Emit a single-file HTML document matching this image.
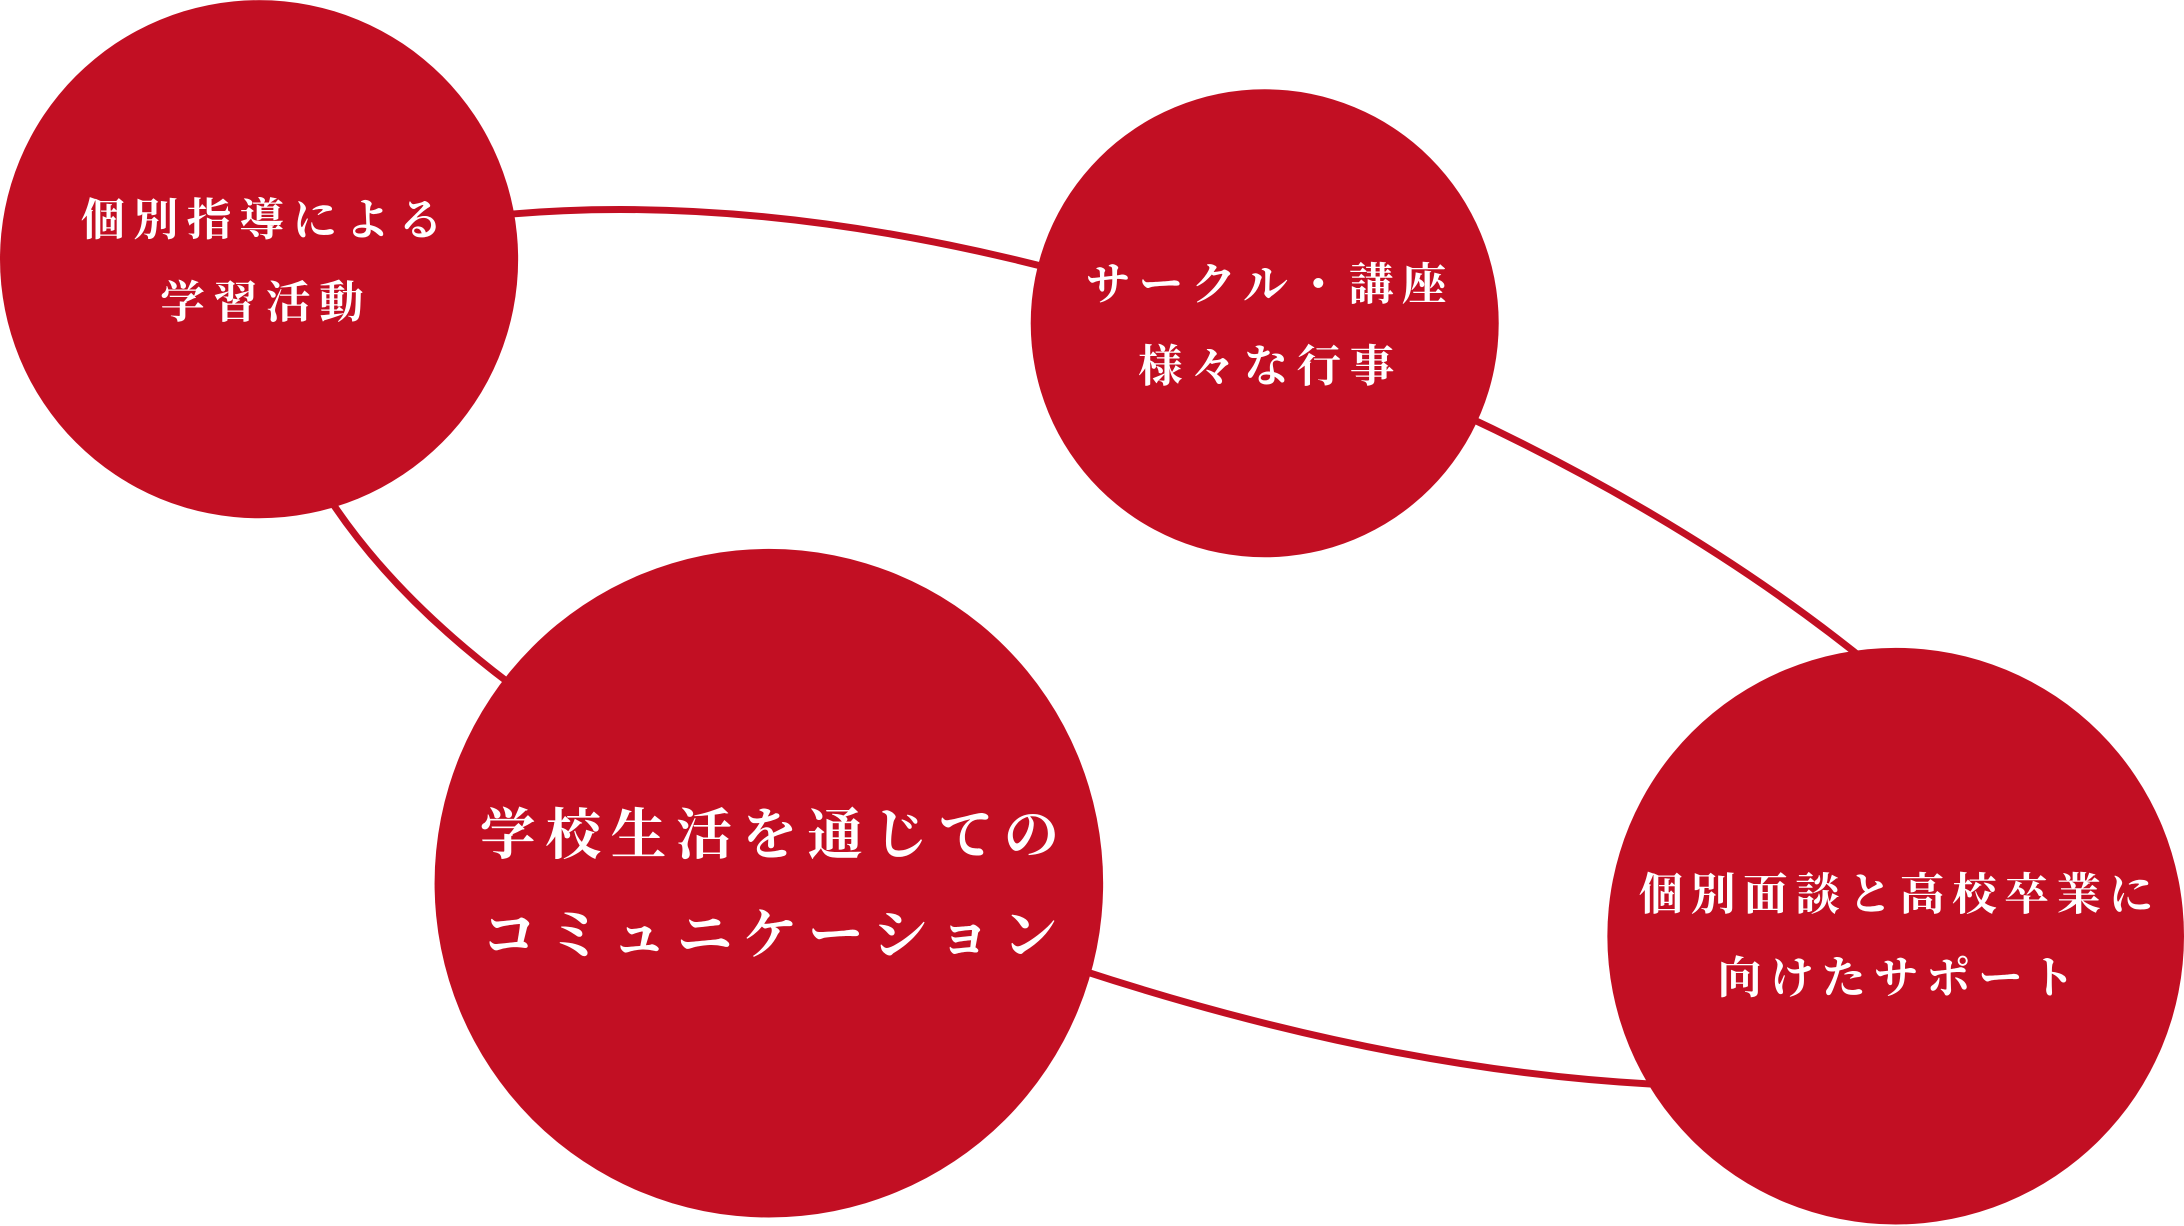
<!DOCTYPE html>
<html><head><meta charset="utf-8"><style>
html,body{margin:0;padding:0;background:#fff;}
svg{display:block;}
text{font-family:"Liberation Serif","Noto Serif CJK JP","Noto Serif CJK SC",serif;font-weight:bold;fill:#fff;text-anchor:middle;dominant-baseline:central;}
</style></head><body>
<svg width="2184" height="1226" viewBox="0 0 1568 880" xmlns="http://www.w3.org/2000/svg">
<g fill="none" stroke="#c20f23" stroke-width="5">
<path d="M300,162 Q520,125 800,205"/>
<path d="M1000,275 Q1220,370 1370,500"/>
<path d="M1250,780 Q1000,780 700,670"/>
<path d="M210,310 Q260,420 400,515"/>
</g>
<g fill="#c20f23">
<circle cx="186" cy="186" r="186"/>
<circle cx="908" cy="232" r="168"/>
<circle cx="552" cy="634" r="240"/>
<circle cx="1361" cy="672" r="207"/>
</g>
<text x="191" y="158" font-size="32" letter-spacing="6">個別指導による</text>
<text x="191" y="217" font-size="32" letter-spacing="6">学習活動</text>
<text x="912" y="204" font-size="32" letter-spacing="6">サークル・講座</text>
<text x="912" y="263" font-size="32" letter-spacing="6">様々な行事</text>
<text x="556" y="600" font-size="40" letter-spacing="7">学校生活を通じての</text>
<text x="556" y="672" font-size="40" letter-spacing="7">コミュニケーション</text>
<text x="1364" y="642" font-size="32" letter-spacing="5.5">個別面談と高校卒業に</text>
<text x="1364" y="702" font-size="32" letter-spacing="5.5">向けたサポート</text>
</svg>
</body></html>
